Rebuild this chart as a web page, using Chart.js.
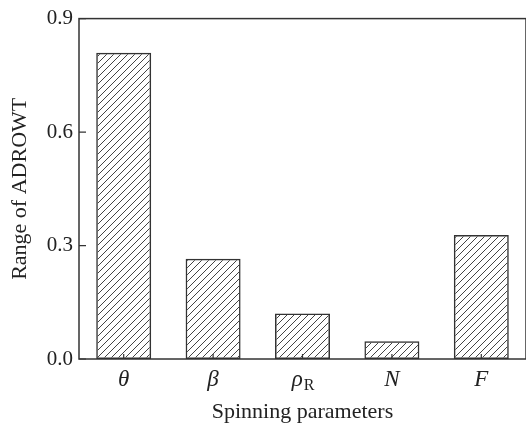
<!DOCTYPE html>
<html>
<head>
<meta charset="utf-8">
<script src="https://cdn.jsdelivr.net/npm/chart.js@4"></script>
<style>
  html, body { margin: 0; padding: 0; background: #fff; }
  #wrap { width: 526px; height: 427px; }
</style>
</head>
<body>
<div id="wrap"><canvas id="chartCanvas" width="526" height="427"></canvas></div>
<script>
// data
const categories = ['θ', 'β', 'ρR', 'N', 'F'];
const rangeValues = [0.81, 0.265, 0.12, 0.047, 0.328];
const yTicks = [0.0, 0.3, 0.6, 0.9];

const FONT = '"Liberation Serif", "Times New Roman", serif';
const INK = '#333';

// diagonal hatch like the print
function makeHatch() {
  const c = document.createElement('canvas');
  c.width = 7; c.height = 7;
  const g = c.getContext('2d');
  g.strokeStyle = '#444';
  g.lineWidth = 1;
  g.beginPath();
  g.moveTo(-1, 8); g.lineTo(8, -1);
  g.moveTo(-1, 1); g.lineTo(1, -1);
  g.moveTo(6, 8); g.lineTo(8, 6);
  g.stroke();
  return g.createPattern(c, 'repeat');
}

// frame, inward ticks and the x labels (greek italic + subscript)
const framePlugin = {
  id: 'frame',
  afterDatasetsDraw(chart) {
    const { ctx, chartArea: a, scales } = chart;
    ctx.save();
    ctx.strokeStyle = INK;
    ctx.lineWidth = 1.5;
    ctx.strokeRect(a.left, a.top, a.right - a.left, a.bottom - a.top);

    ctx.lineWidth = 1.2;
    ctx.beginPath();
    yTicks.forEach(v => {
      const y = scales.y.getPixelForValue(v);
      ctx.moveTo(a.left, y); ctx.lineTo(a.left + 7, y);
    });
    categories.forEach((c, i) => {
      const x = scales.x.getPixelForValue(i);
      ctx.moveTo(x, a.bottom); ctx.lineTo(x, a.bottom - 5);
    });
    ctx.stroke();

    ctx.fillStyle = '#222';
    ctx.textBaseline = 'alphabetic';
    categories.forEach((c, i) => {
      const x = scales.x.getPixelForValue(i);
      const base = a.bottom + 27;
      if (c === 'ρR') {
        ctx.font = 'italic 23px ' + FONT;
        const w1 = ctx.measureText('ρ').width;
        ctx.font = '16px ' + FONT;
        const w2 = ctx.measureText('R').width;
        const x0 = x - (w1 + w2) / 2;
        ctx.textAlign = 'left';
        ctx.font = 'italic 23px ' + FONT;
        ctx.fillText('ρ', x0, base);
        ctx.font = '16px ' + FONT;
        ctx.fillText('R', x0 + w1 + 1, base + 4);
      } else {
        ctx.textAlign = 'center';
        ctx.font = 'italic 23px ' + FONT;
        ctx.fillText(c, x, base);
      }
    });
    ctx.restore();
  }
};

const ctx = document.getElementById('chartCanvas').getContext('2d');
const hatch = makeHatch();

new Chart(ctx, {
  type: 'bar',
  data: {
    labels: categories,
    datasets: [{
      label: 'Range of ADROWT',
      data: rangeValues,
      backgroundColor: hatch,
      borderColor: INK,
      borderWidth: 1.5,
      borderSkipped: false,
      barPercentage: 0.615,
      categoryPercentage: 1
    }]
  },
  options: {
    responsive: false,
    animation: false,
    layout: { padding: { top: 17, right: 0, left: 0, bottom: 0 } },
    plugins: { legend: { display: false }, tooltip: { enabled: false } },
    scales: {
      x: {
        grid: { display: false, drawTicks: false },
        border: { display: false },
        ticks: { display: false },
        title: {
          display: true,
          text: 'Spinning parameters',
          color: '#222',
          font: { family: FONT, size: 22 },
          padding: { top: 0, bottom: 2 }
        },
        afterFit(scale) { scale.height = 68; }
      },
      y: {
        min: 0,
        max: 0.9,
        grid: { display: false, drawTicks: false },
        border: { display: false },
        afterBuildTicks(scale) { scale.ticks = yTicks.map(v => ({ value: v })); },
        ticks: {
          color: '#222',
          padding: 6,
          font: { family: FONT, size: 21 },
          callback: v => v.toFixed(1)
        },
        title: {
          display: true,
          text: 'Range of ADROWT',
          color: '#222',
          font: { family: FONT, size: 22 },
          padding: { top: 7, bottom: 0 }
        },
        afterFit(scale) { scale.width = 79; }
      }
    }
  },
  plugins: [framePlugin]
});
</script>
</body>
</html>
